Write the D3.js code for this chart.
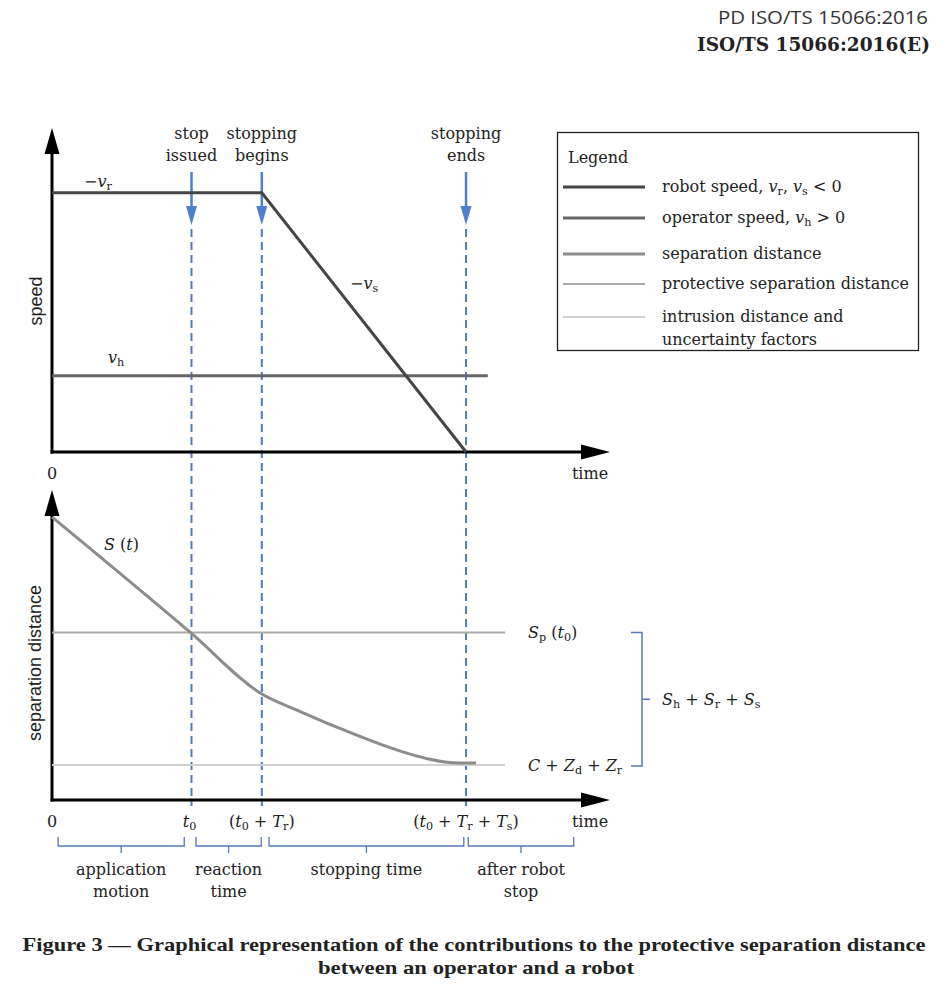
<!DOCTYPE html>
<html><head><meta charset="utf-8">
<script src="https://cdn.jsdelivr.net/npm/d3@7"></script>
<style>body{margin:0;background:#fff}svg{display:block}</style>
</head><body>
<script>
// ---------- data ----------
const timeMarks = [25, 37.6, 74.2];               // t0, t0+Tr, t0+Tr+Ts
const markLabels = [["stop","issued"],["stopping","begins"],["stopping","ends"]];
const robotT = [0, 37.6, 74.2];
const robotV = [80, 80, 0];
const operatorT = [0, 78.1];
const operatorV = [23.5, 23.5];
const sepT = [0, 24.9, 37.6, 44.4, 51.6, 58.8, 64.2, 67.7, 70.4, 73.1, 76.0];
const sepS = [91.3, 53.9, 34.2, 28.62, 23.08, 18.04, 14.8, 13.15, 12.29, 11.94, 11.9];
const protectiveS = 54;
const intrusionS = 11.3;
const refLineEnd = 81.2;
const phaseStart = [1.1, 25.8, 38.9, 74.6];
const phaseEnd = [23.7, 37.5, 73.8, 93.5];
const phaseLabels = [["application","motion"],["reaction","time"],["stopping time"],["after robot","stop"]];
const colors = {robot:"#454545", operator:"#666666", sep:"#8c8c8c", prot:"#ababab", intr:"#d2d2d2", blue:"#5479be", arrow:"#4f7fd0"};

// ---------- setup ----------
const W = 952, H = 1006;
const svg = d3.select("body").append("svg").attr("width", W).attr("height", H);
const SERIF = "'DejaVu Serif', serif";
const SANS = "'Liberation Sans', Arial, sans-serif";

const x = d3.scaleLinear().domain([0, 100]).range([52, 610]);
const yS = d3.scaleLinear().domain([0, 100]).range([452, 128]);
const yD = d3.scaleLinear().domain([0, 100]).range([800, 490]);

// math text helper: parts = [text, style] where style: "i" italic, "s" subscript
function mtext(g, px, py, parts, opts = {}) {
  const t = g.append("text").attr("x", px).attr("y", py)
    .attr("font-family", SERIF).attr("font-size", opts.size || 16)
    .attr("fill", opts.fill || "#222").attr("text-anchor", opts.anchor || "start")
    .attr("dominant-baseline", "middle");
  let shifted = false;
  parts.forEach(([s, st]) => {
    const sp = t.append("tspan").text(s);
    if (st && st.includes("i")) sp.attr("font-style", "italic");
    if (st && st.includes("s")) {
      sp.attr("font-size", (opts.size || 16) * 0.7);
      if (!shifted) { sp.attr("dy", 5); shifted = true; }
    } else if (shifted) { sp.attr("dy", -5); shifted = false; }
  });
  return t;
}

// ---------- header ----------
svg.append("text").attr("x", 928).attr("y", 24).attr("text-anchor", "end")
  .attr("font-family", "'Open Sans', sans-serif").attr("font-size", 19).attr("fill", "#333")
  .attr("textLength", 210).attr("lengthAdjust", "spacingAndGlyphs")
  .text("PD ISO/TS 15066:2016");
svg.append("text").attr("x", 930).attr("y", 51).attr("text-anchor", "end")
  .attr("font-family", SERIF).attr("font-weight", "bold").attr("font-size", 19).attr("fill", "#222")
  .attr("textLength", 233).attr("lengthAdjust", "spacingAndGlyphs")
  .text("ISO/TS 15066:2016(E)");

// ---------- vertical dashed lines & arrows ----------
const marks = svg.append("g");
timeMarks.forEach((t, i) => {
  const px = x(t);
  marks.append("line").attr("x1", px).attr("x2", px).attr("y1", 229).attr("y2", 806)
    .attr("stroke", colors.blue).attr("stroke-width", 2).attr("stroke-dasharray", "8,5");
  marks.append("line").attr("x1", px).attr("x2", px).attr("y1", 172).attr("y2", 210)
    .attr("stroke", colors.arrow).attr("stroke-width", 2.5);
  marks.append("path").attr("d", `M${px-5.5},206 L${px+5.5},206 L${px},225 Z`).attr("fill", colors.arrow);
  markLabels[i].forEach((s, j) => {
    svg.append("text").attr("x", px).attr("y", 134 + j * 22).attr("text-anchor", "middle")
      .attr("dominant-baseline", "middle").attr("font-family", SERIF).attr("font-size", 16)
      .attr("fill", "#222").text(s);
  });
});

// ---------- axes ----------
function axes(yScale) {
  const g = svg.append("g");
  const x0 = x(0), y0 = yScale(0);
  g.append("line").attr("x1", x0).attr("x2", x0).attr("y1", y0 + 1.5).attr("y2", yScale(100) + 20)
    .attr("stroke", "#000").attr("stroke-width", 3);
  g.append("path").attr("d", `M${x0-7.5},${yScale(100)+26} L${x0+7.5},${yScale(100)+26} L${x0},${yScale(100)} Z`);
  g.append("line").attr("x1", x0 - 1.5).attr("x2", x(100) - 20).attr("y1", y0).attr("y2", y0)
    .attr("stroke", "#000").attr("stroke-width", 3);
  g.append("path").attr("d", `M${x(100)-29},${y0-7.5} L${x(100)-29},${y0+7.5} L${x(100)},${y0} Z`);
  return g;
}
axes(yS); axes(yD);

// ---------- top chart ----------
const line = (xs, ys, yScale, curve) => d3.line().x((d, i) => x(xs[i])).y((d, i) => yScale(ys[i])).curve(curve || d3.curveLinear)(xs);
svg.append("path").attr("d", line(operatorT, operatorV, yS)).attr("fill", "none")
  .attr("stroke", colors.operator).attr("stroke-width", 3);
svg.append("path").attr("d", line(robotT, robotV, yS)).attr("fill", "none")
  .attr("stroke", colors.robot).attr("stroke-width", 3);

mtext(svg, 84, 182, [["−"], ["v", "i"], ["r", "s"]]);
mtext(svg, 350, 284, [["−"], ["v", "i"], ["s", "s"]]);
mtext(svg, 108, 358, [["v", "i"], ["h", "s"]]);
svg.append("text").attr("transform", `translate(37,${301}) rotate(-90)`).attr("text-anchor", "middle")
  .attr("dominant-baseline", "middle").attr("font-family", SANS).attr("font-size", 18).attr("fill", "#222").text("speed");
mtext(svg, x(0), 474, [["0"]], {anchor: "middle"});
mtext(svg, 590, 474, [["time"]], {anchor: "middle"});

// ---------- legend ----------
const lg = svg.append("g");
lg.append("rect").attr("x", 557.5).attr("y", 132.5).attr("width", 361).attr("height", 218)
  .attr("fill", "#fff").attr("stroke", "#222").attr("stroke-width", 1.3);
mtext(lg, 568, 158, [["Legend"]]);
const legendRows = [
  {y: 187, c: colors.robot, w: 3, parts: [["robot speed, "], ["v", "i"], ["r", "s"], [", "], ["v", "i"], ["s", "s"], [" < 0"]]},
  {y: 218, c: colors.operator, w: 3, parts: [["operator speed, "], ["v", "i"], ["h", "s"], [" > 0"]]},
  {y: 254, c: colors.sep, w: 3, parts: [["separation distance"]]},
  {y: 284, c: colors.prot, w: 2, parts: [["protective separation distance"]]},
  {y: 317, c: colors.intr, w: 2, parts: [["intrusion distance and"]]}
];
legendRows.forEach(r => {
  lg.append("line").attr("x1", 563).attr("x2", 645).attr("y1", r.y).attr("y2", r.y)
    .attr("stroke", r.c).attr("stroke-width", r.w);
  mtext(lg, 662, r.y, r.parts);
});
mtext(lg, 662, 340, [["uncertainty factors"]]);

// ---------- bottom chart ----------
svg.append("line").attr("x1", x(0)).attr("x2", x(refLineEnd)).attr("y1", yD(protectiveS)).attr("y2", yD(protectiveS))
  .attr("stroke", colors.prot).attr("stroke-width", 2);
svg.append("line").attr("x1", x(0)).attr("x2", x(refLineEnd)).attr("y1", yD(intrusionS)).attr("y2", yD(intrusionS))
  .attr("stroke", colors.intr).attr("stroke-width", 2);
svg.append("path").attr("d", line(sepT, sepS, yD, d3.curveMonotoneX)).attr("fill", "none")
  .attr("stroke", colors.sep).attr("stroke-width", 3);

mtext(svg, 104, 545, [["S", "i"], [" ("], ["t", "i"], [")"]]);
mtext(svg, 528, yD(protectiveS), [["S", "i"], ["p", "s"], [" ("], ["t", "i"], ["0", "s"], [")"]]);
mtext(svg, 528, yD(intrusionS) + 1, [["C", "i"], [" + "], ["Z", "i"], ["d", "s"], [" + "], ["Z", "i"], ["r", "s"]]);

// bracket
const bT = yD(protectiveS), bB = yD(intrusionS) + 1, bX = 642;
svg.append("path").attr("d", `M${bX-11},${bT} L${bX},${bT} L${bX},${bB} L${bX-11},${bB} M${bX},${(bT+bB)/2} L${bX+8},${(bT+bB)/2}`)
  .attr("fill", "none").attr("stroke", colors.blue).attr("stroke-width", 1.5);
mtext(svg, 662, (bT + bB) / 2 + 1, [["S", "i"], ["h", "s"], [" + "], ["S", "i"], ["r", "s"], [" + "], ["S", "i"], ["s", "s"]]);

svg.append("text").attr("transform", `translate(36,663) rotate(-90)`).attr("text-anchor", "middle")
  .attr("dominant-baseline", "middle").attr("font-family", SANS).attr("font-size", 18).attr("fill", "#222").text("separation distance");

// x labels bottom
const yl = 822;
mtext(svg, x(0), yl, [["0"]], {anchor: "middle"});
mtext(svg, x(timeMarks[0]) - 2, yl, [["t", "i"], ["0", "s"]], {anchor: "middle"});
mtext(svg, x(timeMarks[1]), yl, [["("], ["t", "i"], ["0", "s"], [" + "], ["T", "i"], ["r", "s"], [")"]], {anchor: "middle"});
mtext(svg, x(timeMarks[2]), yl, [["("], ["t", "i"], ["0", "s"], [" + "], ["T", "i"], ["r", "s"], [" + "], ["T", "i"], ["s", "s"], [")"]], {anchor: "middle"});
mtext(svg, 590, yl, [["time"]], {anchor: "middle"});

// phase braces
phaseStart.forEach((s, i) => {
  const a = x(s), b = x(phaseEnd[i]), m = (a + b) / 2;
  svg.append("path").attr("d", `M${a},837 L${a},846 L${b},846 L${b},837 M${m},846 L${m},853`)
    .attr("fill", "none").attr("stroke", colors.blue).attr("stroke-width", 1.3);
  phaseLabels[i].forEach((txt, j) => {
    mtext(svg, m, 870 + j * 22, [[txt]], {anchor: "middle"});
  });
});

// ---------- caption ----------
const cap = svg.append("g").attr("font-family", "'Liberation Serif', 'Times New Roman', serif")
  .attr("font-weight", "bold").attr("fill", "#222").attr("font-size", 19);
cap.append("text").attr("x", 474).attr("y", 951).attr("text-anchor", "middle")
  .attr("textLength", 903).attr("lengthAdjust", "spacingAndGlyphs")
  .text("Figure 3 — Graphical representation of the contributions to the protective separation distance");
cap.append("text").attr("x", 476).attr("y", 974).attr("text-anchor", "middle")
  .attr("textLength", 316).attr("lengthAdjust", "spacingAndGlyphs")
  .text("between an operator and a robot");
</script>
</body></html>
